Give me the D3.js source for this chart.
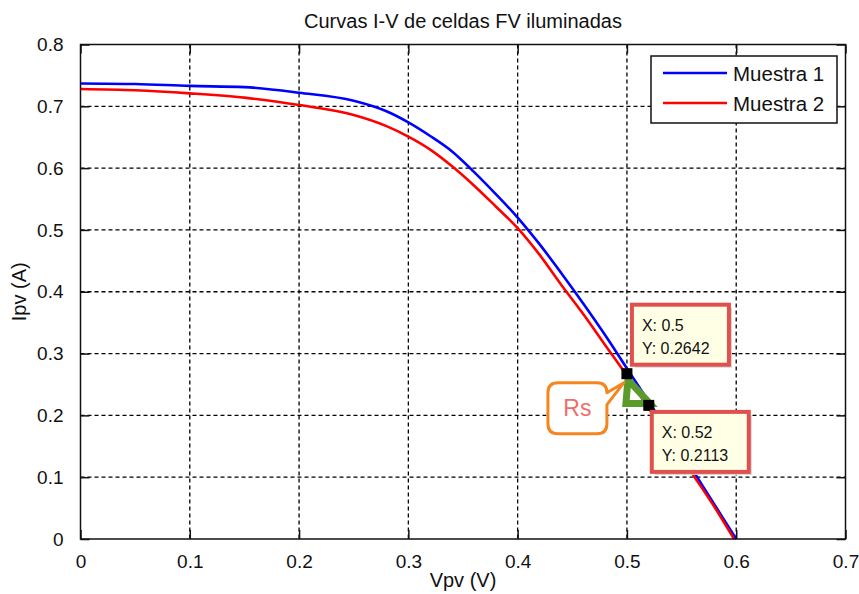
<!DOCTYPE html>
<html>
<head>
<meta charset="utf-8">
<script src="https://cdn.jsdelivr.net/npm/d3@7"></script>
<style>
  body { margin: 0; background: #fff; }
  text { font-family: "Liberation Sans", Arial, sans-serif; fill: #111; }
</style>
</head>
<body>
<div id="svgcontainer"></div>
<script>
// data
var VOLTAGE_1 = [0, 0.05, 0.1, 0.15, 0.2, 0.25, 0.28, 0.3, 0.32, 0.34, 0.36, 0.38, 0.4, 0.42, 0.44, 0.46, 0.48, 0.5, 0.52, 0.54, 0.56, 0.58, 0.6];
var CURRENT_1 = [0.737, 0.736, 0.733, 0.731, 0.722, 0.709, 0.692, 0.674, 0.652, 0.627, 0.594, 0.558, 0.520, 0.477, 0.430, 0.381, 0.330, 0.276, 0.222, 0.168, 0.112, 0.056, 0];
var VOLTAGE_2 = [0, 0.05, 0.1, 0.15, 0.2, 0.25, 0.28, 0.3, 0.32, 0.34, 0.36, 0.38, 0.4, 0.42, 0.44, 0.46, 0.48, 0.5, 0.52, 0.54, 0.56, 0.58, 0.598];
var CURRENT_2 = [0.728, 0.726, 0.721, 0.714, 0.702, 0.686, 0.668, 0.651, 0.630, 0.603, 0.572, 0.538, 0.503, 0.460, 0.411, 0.364, 0.314, 0.2642, 0.2113, 0.158, 0.105, 0.052, 0];
var SERIES_NAMES = ["Muestra 1", "Muestra 2"];
var SERIES_COLORS = ["#0000ff", "#ff0000"];
var X_TICKS = [0, 0.1, 0.2, 0.3, 0.4, 0.5, 0.6, 0.7];
var Y_TICKS = [0, 0.1, 0.2, 0.3, 0.4, 0.5, 0.6, 0.7, 0.8];
var TIP_V = [0.5, 0.52];
var TIP_I = [0.2642, 0.2113];

var WIDTH = 859, HEIGHT = 594;
var LEFT = 80.5, RIGHT = 845.5, TOP = 44.5, BOTTOM = 539;

var svg = d3.select("#svgcontainer")
    .append("svg")
    .attr("width", WIDTH)
    .attr("height", HEIGHT);

var x = d3.scaleLinear().domain([0, 0.7]).range([LEFT, RIGHT]);
var y = d3.scaleLinear().domain([0, 0.8]).range([BOTTOM, TOP]);

// dashed grid
svg.selectAll(".vgrid")
    .data(X_TICKS.slice(1, -1))
    .enter().append("line")
    .attr("x1", function(d) { return x(d); })
    .attr("x2", function(d) { return x(d); })
    .attr("y1", TOP).attr("y2", BOTTOM)
    .attr("stroke", "#000").attr("stroke-width", 1.3)
    .attr("stroke-dasharray", "4,3");

svg.selectAll(".hgrid")
    .data(Y_TICKS.slice(1, -1))
    .enter().append("line")
    .attr("y1", function(d) { return y(d); })
    .attr("y2", function(d) { return y(d); })
    .attr("x1", LEFT).attr("x2", RIGHT)
    .attr("stroke", "#000").attr("stroke-width", 1.3)
    .attr("stroke-dasharray", "4,3");

// curves
var line = d3.line()
    .curve(d3.curveMonotoneX)
    .x(function(d) { return x(d[0]); })
    .y(function(d) { return y(d[1]); });

var curves = [d3.zip(VOLTAGE_1, CURRENT_1), d3.zip(VOLTAGE_2, CURRENT_2)];
curves.forEach(function(pts, i) {
    svg.append("path")
        .attr("d", line(pts))
        .attr("fill", "none")
        .attr("stroke", SERIES_COLORS[i])
        .attr("stroke-width", 2.6);
});

// axes box with inward ticks (matlab style)
var TICK = 9;
svg.append("rect")
    .attr("x", LEFT).attr("y", TOP)
    .attr("width", RIGHT - LEFT).attr("height", BOTTOM - TOP)
    .attr("fill", "none").attr("stroke", "#111").attr("stroke-width", 1.5);

var axisBottom = d3.axisBottom(x).tickValues(X_TICKS).tickSize(-TICK).tickPadding(16)
    .tickFormat(function(d) { return d3.format("")(+d.toFixed(1)); });
var axisTop = d3.axisTop(x).tickValues(X_TICKS).tickSize(-TICK).tickFormat("");
var axisLeft = d3.axisLeft(y).tickValues(Y_TICKS).tickSize(-TICK).tickPadding(17)
    .tickFormat(function(d) { return d3.format("")(+d.toFixed(1)); });
var axisRight = d3.axisRight(y).tickValues(Y_TICKS).tickSize(-TICK).tickFormat("");

function styleAxis(g) {
    g.select(".domain").remove();
    g.selectAll(".tick line").attr("stroke", "#111").attr("stroke-width", 1.5);
    g.selectAll(".tick text")
        .style("font-family", "'Liberation Sans', Arial, sans-serif")
        .style("font-size", "19px")
        .attr("fill", "#111");
}

svg.append("g").attr("transform", "translate(0," + BOTTOM + ")").call(axisBottom).call(styleAxis);
svg.append("g").attr("transform", "translate(0," + TOP + ")").call(axisTop).call(styleAxis);
svg.append("g").attr("transform", "translate(" + LEFT + ",0)").call(axisLeft).call(styleAxis);
svg.append("g").attr("transform", "translate(" + RIGHT + ",0)").call(axisRight).call(styleAxis);

// title and labels
svg.append("text")
    .attr("x", (LEFT + RIGHT) / 2).attr("y", 28)
    .attr("text-anchor", "middle")
    .style("font-size", "20px")
    .text("Curvas I-V de celdas FV iluminadas");

svg.append("text")
    .attr("x", (LEFT + RIGHT) / 2).attr("y", 587)
    .attr("text-anchor", "middle")
    .style("font-size", "20px")
    .text("Vpv (V)");

svg.append("text")
    .attr("transform", "translate(26," + (TOP + BOTTOM) / 2 + ") rotate(-90)")
    .attr("text-anchor", "middle")
    .style("font-size", "20px")
    .text("Ipv (A)");

// legend
var legend = svg.append("g").attr("transform", "translate(651,56)");
legend.append("rect")
    .attr("width", 186).attr("height", 67)
    .attr("fill", "#fff").attr("stroke", "#111").attr("stroke-width", 1.5);
SERIES_NAMES.forEach(function(name, i) {
    legend.append("line")
        .attr("x1", 12).attr("x2", 76)
        .attr("y1", 17 + i * 30).attr("y2", 17 + i * 30)
        .attr("stroke", SERIES_COLORS[i]).attr("stroke-width", 2.6);
    legend.append("text")
        .attr("x", 82).attr("y", 25 + i * 30)
        .style("font-size", "20.5px")
        .text(name);
});

// Rs triangle between the two datatips
var p1 = [x(TIP_V[0]), y(TIP_I[0])];
var p2 = [x(TIP_V[1]), y(TIP_I[1])];
svg.append("path")
    .attr("d", "M" + (p1[0] + 1) + "," + (p1[1] + 4) +
               "L" + (p1[0] - 1) + "," + (p2[1] - 5) +
               "L" + (p2[0] + 1) + "," + (p2[1] - 5) + "Z")
    .attr("fill", "none")
    .attr("stroke", "#5b9a2b")
    .attr("stroke-width", 7)
    .attr("stroke-linejoin", "miter");

// datatip markers
TIP_V.forEach(function(v, i) {
    svg.append("rect")
        .attr("x", x(v) - 5.5).attr("y", y(TIP_I[i]) - 5.5 - (i ? 3 : 2))
        .attr("width", 11).attr("height", 11)
        .attr("fill", "#000");
});

// datatip boxes
var tipOffsets = [[5, -71], [3, 3.5]];
TIP_V.forEach(function(v, i) {
    var bx = x(v) + tipOffsets[i][0];
    var by = y(TIP_I[i]) + tipOffsets[i][1];
    var g = svg.append("g").attr("transform", "translate(" + bx + "," + by + ")");
    g.append("rect")
        .attr("x", 3).attr("y", 3).attr("width", 97).attr("height", 60)
        .attr("fill", "#d4d4d4");
    g.append("rect")
        .attr("width", 97).attr("height", 60)
        .attr("fill", "#ffffe6")
        .attr("stroke", "#e0504d").attr("stroke-width", 4);
    g.append("text").attr("x", 10).attr("y", 26)
        .style("font-size", "16px").text("X: " + v);
    g.append("text").attr("x", 10).attr("y", 49)
        .style("font-size", "16px").text("Y: " + TIP_I[i]);
});

// Rs callout
var cx = p1[0] - 3, cy = p1[1] + 7; // pointer tip
var bl = cx - 76, bt = cy, br = cx - 17, bb = cy + 51, r = 10;
svg.append("path")
    .attr("d", "M" + (bl + r) + "," + bt +
               "H" + (br - r) +
               "Q" + br + "," + bt + " " + br + "," + (bt + r) +
               "L" + cx + "," + cy +
               "L" + br + "," + (bt + 22) +
               "V" + (bb - r) +
               "Q" + br + "," + bb + " " + (br - r) + "," + bb +
               "H" + (bl + r) +
               "Q" + bl + "," + bb + " " + bl + "," + (bb - r) +
               "V" + (bt + r) +
               "Q" + bl + "," + bt + " " + (bl + r) + "," + bt + "Z")
    .attr("fill", "#fff")
    .attr("stroke", "#f5861f")
    .attr("stroke-width", 3)
    .attr("stroke-linejoin", "round");

svg.append("text")
    .attr("x", (bl + br) / 2).attr("y", bt + 33)
    .attr("text-anchor", "middle")
    .style("font-size", "23px")
    .style("fill", "#ee6e6b")
    .text("Rs");
</script>
</body>
</html>
